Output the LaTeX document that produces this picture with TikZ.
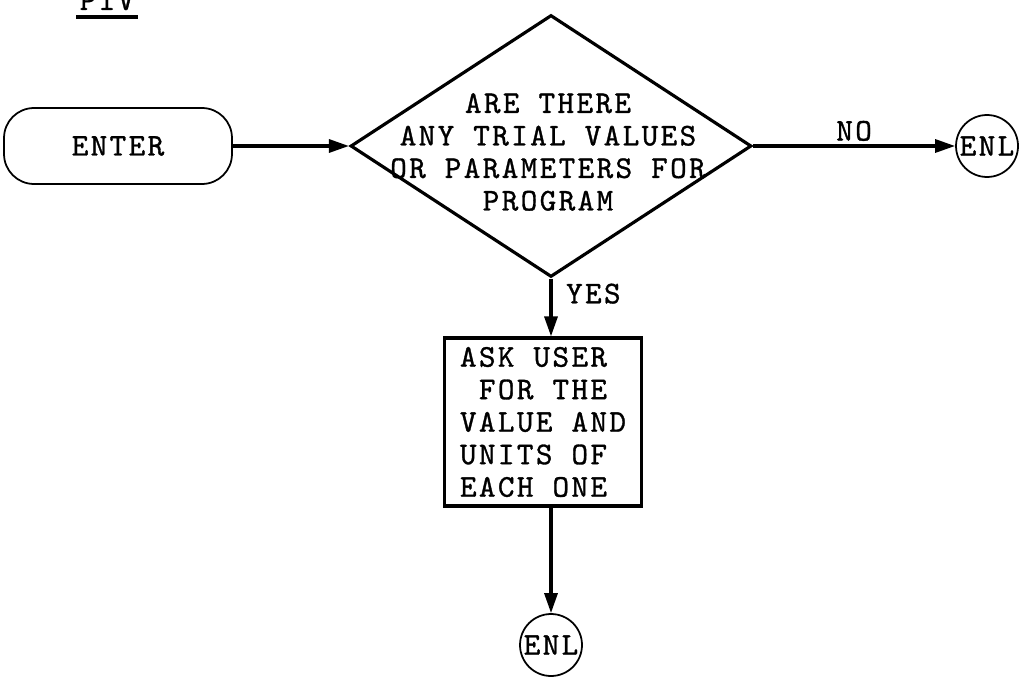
\documentclass[tikz,border=0pt]{standalone}
\usepackage{fontspec}
\newfontfamily\typewr{lmmono10-regular.otf}[LetterSpace=7.5, FakeBold=1]
\usetikzlibrary{arrows.meta,positioning,shapes.geometric}

\begin{document}
\begin{tikzpicture}[
    x=0.02cm, y=-0.02cm,
    font=\typewr\fontsize{18}{18.5}\selectfont,
    line width=1.8pt,
    term/.style={draw, line width=1pt, rounded corners=0.6cm, minimum width=4.56cm, minimum height=1.52cm},
    dec/.style={draw, diamond, inner sep=0pt, minimum width=8.02cm, minimum height=5.24cm},
    act/.style={draw, align=left, minimum width=3.94cm, minimum height=3.36cm},
    conn/.style={draw, circle, line width=1pt, inner sep=0pt, minimum size=1.24cm},
    edge/.style={-{Triangle[length=4mm,width=2.6mm]}},
    lab/.style={inner sep=2pt}
]
\clip (0,0) rectangle (1023,682);
\node[inner xsep=1pt, anchor=base] (title) at (107,10) {PIV};
\draw[line width=2pt] ([yshift=-4pt]title.base west) -- ([yshift=-4pt]title.base east);
\node[term] (enter) at (118,146) {ENTER};
\node[dec] (quest) at (551,146) {};
\node[align=center] (qtext) at (548,152) {ARE THERE\\ANY TRIAL VALUES\\OR PARAMETERS FOR\\PROGRAM};
\node[conn] (endr) at (987,146) {ENL};
\node[act] (ask) at (543,422) {ASK USER\\\ FOR THE\\VALUE AND\\UNITS OF\\EACH ONE};
\node[conn] (endb) at (551,645) {ENL};
\draw[edge] (enter) -- (quest.west);
\draw[edge] (quest.east) -- node[lab, above]{NO} (endr);
\draw[edge] (quest.south) -- (quest.south |- ask.north);
\node[lab, anchor=north west] (yes) at ([xshift=0.2cm]quest.south) {YES};
\draw[edge] (ask.south -| endb.north) -- (endb);
\end{tikzpicture}
\end{document}
